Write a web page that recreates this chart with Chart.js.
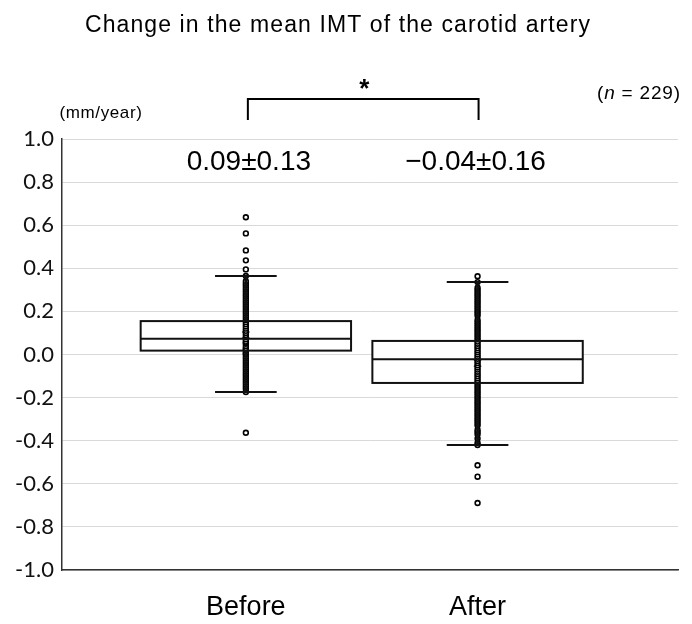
<!DOCTYPE html>
<html>
<head>
<meta charset="utf-8">
<script src="https://cdn.jsdelivr.net/npm/chart.js@4.4.1/dist/chart.umd.min.js"></script>
<style>
  html, body { margin: 0; padding: 0; background: #fff; }
  #wrap { width: 692px; height: 624px; }
</style>
</head>
<body>
<div id="wrap"><canvas id="imtChart" width="692" height="624"></canvas></div>
<script>
// groups and box-plot summary (mm/year)
const groups = ['Before', 'After'];
const groupPos = [1, 2];
const q1 = [0.018, -0.132];
const median = [0.073, -0.022];
const q3 = [0.155, 0.063];
const whiskerLow = [-0.174, -0.42];
const whiskerHigh = [0.364, 0.336];
const means = [0.09, -0.04];
const meanSdLabels = ['0.09\u00b10.13', '\u22120.04\u00b10.16'];

// individual values
const beforePoints = [-0.363, -0.174, -0.16, -0.15, -0.14, -0.13, -0.12, -0.11, -0.10, -0.09, -0.08,
  -0.07, -0.06, -0.05, -0.04, -0.03, -0.02, -0.01, 0.00, 0.005, 0.01, 0.02, 0.025, 0.03, 0.04, 0.05,
  0.055, 0.06, 0.07, 0.08, 0.09, 0.10, 0.11, 0.12, 0.13, 0.14, 0.15, 0.16, 0.17, 0.18, 0.19, 0.20,
  0.21, 0.22, 0.23, 0.24, 0.25, 0.26, 0.27, 0.28, 0.29, 0.30, 0.31, 0.32, 0.33, 0.34, 0.364,
  0.395, 0.437, 0.483, 0.562, 0.637];
const afterPoints = [-0.689, -0.567, -0.514, -0.42, -0.41, -0.39, -0.37, -0.36, -0.35, -0.33, -0.32,
  -0.31, -0.30, -0.29, -0.28, -0.27, -0.26, -0.25, -0.24, -0.23, -0.22, -0.21, -0.20, -0.19, -0.18,
  -0.17, -0.16, -0.15, -0.14, -0.13, -0.12, -0.11, -0.10, -0.09, -0.08, -0.07, -0.06, -0.05, -0.04,
  -0.03, -0.02, -0.01, 0.00, 0.01, 0.02, 0.03, 0.04, 0.05, 0.06, 0.07, 0.08, 0.09, 0.10, 0.11, 0.12,
  0.13, 0.14, 0.15, 0.16, 0.18, 0.19, 0.20, 0.21, 0.22, 0.23, 0.24, 0.25, 0.26, 0.27, 0.28, 0.29,
  0.30, 0.31, 0.336, 0.363];

const yMin = -1.0;
const yMax = 1.0;
const yStep = 0.2;

const boxHalf = 0.454;   // in x units
const capHalf = 0.133;
const INK = '#111';
const ARIAL = '"Liberation Sans", Arial, sans-serif';

const boxPlugin = {
  id: 'boxes',
  beforeDatasetsDraw(chart) {
    // white box fill hides the gridlines behind it
    const { ctx, scales: { x, y } } = chart;
    ctx.save();
    ctx.fillStyle = '#fff';
    groupPos.forEach((p, i) => {
      const left = x.getPixelForValue(p - boxHalf);
      const right = x.getPixelForValue(p + boxHalf);
      const top = y.getPixelForValue(q3[i]);
      const bot = y.getPixelForValue(q1[i]);
      ctx.fillRect(left, top, right - left, bot - top);
    });
    ctx.restore();
  },
  afterDatasetsDraw(chart) {
    const { ctx, scales: { x, y } } = chart;
    ctx.save();
    ctx.strokeStyle = INK;
    groupPos.forEach((p, i) => {
      const cx = x.getPixelForValue(p);
      const left = x.getPixelForValue(p - boxHalf);
      const right = x.getPixelForValue(p + boxHalf);
      const capL = x.getPixelForValue(p - capHalf);
      const capR = x.getPixelForValue(p + capHalf);
      // whisker stems over the dots
      ctx.lineWidth = 3;
      ctx.beginPath();
      ctx.moveTo(cx, y.getPixelForValue(whiskerHigh[i]));
      ctx.lineTo(cx, y.getPixelForValue(q3[i]));
      ctx.moveTo(cx, y.getPixelForValue(q1[i]));
      ctx.lineTo(cx, y.getPixelForValue(whiskerLow[i]));
      ctx.stroke();
      // caps
      ctx.lineWidth = 2;
      ctx.beginPath();
      ctx.moveTo(capL, y.getPixelForValue(whiskerHigh[i]));
      ctx.lineTo(capR, y.getPixelForValue(whiskerHigh[i]));
      ctx.moveTo(capL, y.getPixelForValue(whiskerLow[i]));
      ctx.lineTo(capR, y.getPixelForValue(whiskerLow[i]));
      ctx.stroke();
      // box outline and median
      const top = y.getPixelForValue(q3[i]);
      const bot = y.getPixelForValue(q1[i]);
      ctx.strokeRect(left, top, right - left, bot - top);
      ctx.beginPath();
      ctx.moveTo(left, y.getPixelForValue(median[i]));
      ctx.lineTo(right, y.getPixelForValue(median[i]));
      ctx.stroke();
    });
    ctx.restore();
  },
  afterDraw(chart) {
    const { ctx, scales: { x } } = chart;
    ctx.save();
    ctx.fillStyle = '#000';
    ctx.textAlign = 'center';
    ctx.textBaseline = 'alphabetic';
    ctx.font = '23px ' + ARIAL;
    ctx.letterSpacing = '1.1px';
    ctx.fillText('Change in the mean IMT of the carotid artery', 338, 32);

    ctx.font = '17px ' + ARIAL;
    ctx.letterSpacing = '0.6px';
    ctx.fillText('(mm/year)', 101, 118);

    // (n = 229)
    ctx.textAlign = 'left';
    ctx.letterSpacing = '0.8px';
    ctx.font = '19px ' + ARIAL;
    let tx = 597;
    ctx.fillText('(', tx, 99); tx += ctx.measureText('(').width;
    ctx.font = 'italic 19px ' + ARIAL;
    ctx.fillText('n', tx, 99); tx += ctx.measureText('n').width;
    ctx.font = '19px ' + ARIAL;
    ctx.fillText(' = 229)', tx, 99);

    // mean ± SD labels
    ctx.textAlign = 'center';
    ctx.letterSpacing = '0px';
    ctx.font = '28px ' + ARIAL;
    groupPos.forEach((p, i) => {
      ctx.fillText(meanSdLabels[i], x.getPixelForValue(p) + (i === 0 ? 3 : -2), 170);
    });

    // significance bracket
    const xa = x.getPixelForValue(groupPos[0]) + 2;
    const xb = x.getPixelForValue(groupPos[1]) + 1;
    ctx.strokeStyle = '#000';
    ctx.lineWidth = 2;
    ctx.beginPath();
    ctx.moveTo(xa, 120);
    ctx.lineTo(xa, 99);
    ctx.lineTo(xb, 99);
    ctx.lineTo(xb, 120);
    ctx.stroke();
    ctx.font = 'bold 26px ' + ARIAL;
    ctx.fillText('*', (xa + xb) / 2 + 1, 97);
    ctx.restore();
  }
};

const dotStyle = {
  showLine: false,
  pointStyle: 'circle',
  pointRadius: 2.4,
  pointBorderWidth: 1.6,
  borderColor: '#000',
  backgroundColor: '#fff'
};

new Chart(document.getElementById('imtChart'), {
  type: 'scatter',
  data: {
    datasets: [
      { label: 'Before', data: beforePoints.map(v => ({ x: groupPos[0], y: v })), ...dotStyle },
      { label: 'After', data: afterPoints.map(v => ({ x: groupPos[1], y: v })), ...dotStyle },
      {
        label: 'Mean',
        data: means.map((v, i) => ({ x: groupPos[i], y: v })),
        showLine: false,
        pointStyle: 'crossRot',
        pointRadius: 5,
        pointBorderWidth: 1.5,
        borderColor: '#444',
        backgroundColor: '#444'
      }
    ]
  },
  options: {
    responsive: false,
    animation: false,
    events: [],
    layout: { padding: { top: 139, right: 14, left: 0, bottom: 0 } },
    plugins: { legend: { display: false }, tooltip: { enabled: false } },
    scales: {
      x: {
        type: 'linear',
        min: 0.2065,
        max: 2.865,
        afterFit: s => { s.height = 54; },
        afterBuildTicks: s => { s.ticks = groupPos.map(v => ({ value: v })); },
        grid: { display: false },
        border: { display: true, color: '#333', width: 1.5 },
        ticks: {
          padding: 13,
          color: '#000',
          font: { family: ARIAL, size: 27 },
          callback: v => groups[groupPos.indexOf(v)] || ''
        }
      },
      y: {
        min: yMin,
        max: yMax,
        afterFit: s => { s.width = 62; },
        grid: { color: '#d9d9d9', lineWidth: 1, drawTicks: false },
        border: { display: true, color: '#333', width: 1.5 },
        ticks: {
          stepSize: yStep,
          padding: 8,
          color: '#111',
          font: { family: 'Lato, "Noto Sans", sans-serif', size: 22 },
          callback: v => (Math.abs(v) < 1e-9 ? 0 : v).toFixed(1)
        }
      }
    }
  },
  plugins: [boxPlugin]
});
</script>
</body>
</html>
